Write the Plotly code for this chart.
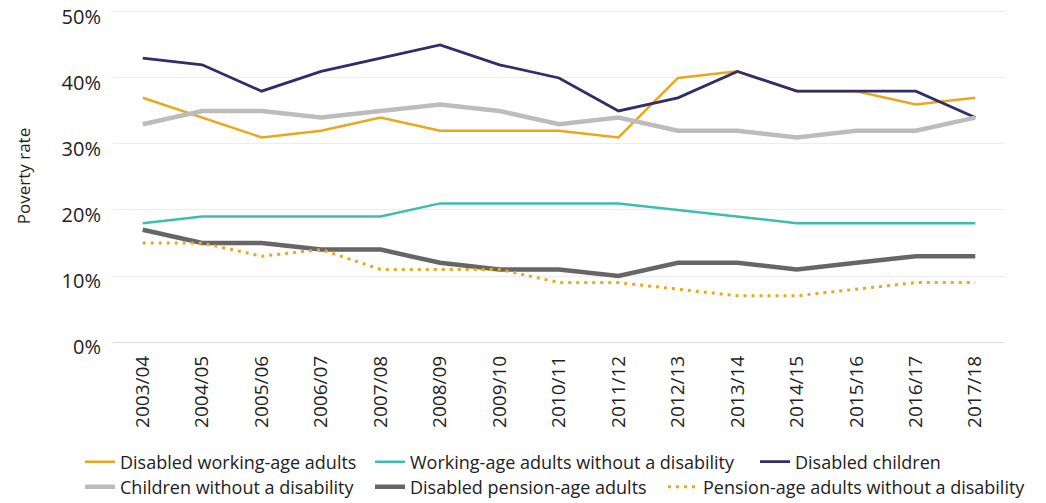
import plotly.graph_objects as go

years = ["2003/04", "2004/05", "2005/06", "2006/07", "2007/08", "2008/09", "2009/10",
         "2010/11", "2011/12", "2012/13", "2013/14", "2014/15", "2015/16", "2016/17", "2017/18"]

disabled_working_age = [37, 34, 31, 32, 34, 32, 32, 32, 31, 40, 41, 38, 38, 36, 37]
working_age_no_dis = [18, 19, 19, 19, 19, 21, 21, 21, 21, 20, 19, 18, 18, 18, 18]
disabled_children = [43, 42, 38, 41, 43, 45, 42, 40, 35, 37, 41, 38, 38, 38, 34]
children_no_dis = [33, 35, 35, 34, 35, 36, 35, 33, 34, 32, 32, 31, 32, 32, 34]
disabled_pension = [17, 15, 15, 14, 14, 12, 11, 11, 10, 12, 12, 11, 12, 13, 13]
pension_no_dis = [15, 15, 13, 14, 11, 11, 11, 9, 9, 8, 7, 7, 8, 9, 9]

y_ticks = [0, 10, 20, 30, 40, 50]
y_tick_labels = ["0%", "10%", "20%", "30%", "40%", "50%"]

ORANGE = "#EBA71C"
TEAL = "#3CBDB2"
NAVY = "#322C69"
LGRAY = "#BCBCBC"
DGRAY = "#666666"
TXT = "#222222"
FONT = "Open Sans"

series = [
    ("Disabled working-age adults", disabled_working_age, ORANGE, 2.5, "solid"),
    ("Working-age adults without a disability", working_age_no_dis, TEAL, 2.5, "solid"),
    ("Disabled children", disabled_children, NAVY, 2.8, "solid"),
    ("Children without a disability", children_no_dis, LGRAY, 4.5, "solid"),
    ("Disabled pension-age adults", disabled_pension, DGRAY, 4.5, "solid"),
    ("Pension-age adults without a disability", pension_no_dis, ORANGE, 3, "3px,5px"),
]

W, H = 1046, 503
Y_TOP = 50.3                      # a hair above 50% so the top gridline is drawn
ML, MR, MT, MB = 113, 41, 10, 161
PW, PH = W - ML - MR, H - MT - MB

# legend text start positions and row centres (pixels)
leg_text_x = [120, 410, 795, 120, 410, 703]
leg_row_y = [462, 462, 462, 487, 487, 487]

fig = go.Figure()
layout_legends = {}
for i, (name, vals, col, w, dash) in enumerate(series):
    key = "legend" if i == 0 else f"legend{i + 1}"
    fig.add_trace(go.Scatter(
        x=years, y=vals, name=name, mode="lines",
        line=dict(color=col, width=w, dash=dash),
        legend=key, showlegend=True,
    ))
    origin_px = leg_text_x[i] - 40
    layout_legends[key] = dict(
        orientation="h",
        x=(origin_px - ML) / PW, xanchor="left",
        y=(MT + PH - leg_row_y[i]) / PH, yanchor="middle",
        font=dict(family=FONT, size=18, color=TXT),
        itemwidth=30, bgcolor="rgba(0,0,0,0)",
    )

fig.update_layout(
    width=W, height=H, showlegend=True,
    margin=dict(l=ML, r=MR, t=MT, b=MB, autoexpand=False),
    plot_bgcolor="white", paper_bgcolor="white",
    font=dict(family=FONT, color=TXT, size=16),
    xaxis=dict(
        type="category", range=[-0.5, 14.5], tickangle=-90,
        showgrid=False, showline=False, zeroline=False, ticks="",
        tickfont=dict(family=FONT, size=19, color=TXT),
        ticklabelstandoff=9, automargin=False,
    ),
    yaxis=dict(
        range=[0, Y_TOP], tickvals=y_ticks, ticktext=y_tick_labels,
        showgrid=True, gridcolor="#EDEDED", gridwidth=1,
        zeroline=True, zerolinecolor="#DDDDDD", zerolinewidth=1,
        showline=False, ticks="", ticklabelstandoff=11, automargin=False,
        ticklabelshift=5, ticklabeloverflow="allow",
        tickfont=dict(family=FONT, size=20, color=TXT),
        title=dict(text="Poverty rate", font=dict(family=FONT, size=17, color=TXT), standoff=26),
    ),
    **layout_legends,
)

# remove the browser's default page margin so the figure sits at the window's corner
fig.write_html(
    "out.html",
    config={"displayModeBar": False},
    post_script="document.body.style.margin='0';document.body.style.padding='0';",
)
